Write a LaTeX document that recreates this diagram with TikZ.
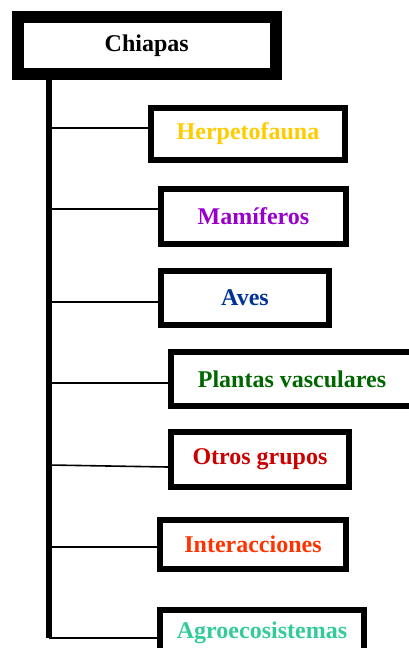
\documentclass[tikz,border=0pt]{standalone}
\usepackage{fontspec}
\setmainfont{Liberation Serif}
\usepackage{tikz}
\usetikzlibrary{calc}
\definecolor{herpcol}{HTML}{FFCC00}
\definecolor{mamcol}{HTML}{9900CC}
\definecolor{avecol}{HTML}{003399}
\definecolor{plantcol}{HTML}{006600}
\definecolor{otroscol}{HTML}{CC0000}
\definecolor{intercol}{HTML}{FF3300}
\definecolor{agrocol}{HTML}{33CC99}
\newcommand{\tikzGroupNode}[7]{
  \node[groupbox,text=#2,minimum width=#5,minimum height=#6] (#1) at (#3,#4) {#7};
}

\begin{document}
\begin{tikzpicture}[x=1pt,y=-1pt,
  groupbox/.style={draw,line width=6pt,rectangle,inner sep=0pt,fill=white,
    font=\bfseries\fontsize{24}{27}\selectfont},
  branch/.style={draw,line width=1.6pt},
  trunk/.style={draw,line width=6pt}]

  \useasboundingbox (0,0) rectangle (408,648);

  %root
  \node[groupbox,line width=12pt,minimum width=258.5,minimum height=57.5] (chiapas) at (146.75,45.25) {Chiapas};

  %groups
  \tikzGroupNode{herp}{herpcol}{248}{134}{194}{52}{Herpetofauna}
  \tikzGroupNode{mam}{mamcol}{253.5}{216.5}{185}{55}{Mamíferos}
  \tikzGroupNode{aves}{avecol}{245}{298}{168}{54}{Aves}
  \tikzGroupNode{plant}{plantcol}{292}{379}{242}{54}{Plantas vasculares}
  \tikzGroupNode{otros}{otroscol}{260}{459.5}{178}{55}{Otros grupos}
  \tikzGroupNode{inter}{intercol}{253}{544.5}{186}{49}{Interacciones}
  \tikzGroupNode{agro}{agrocol}{262}{633}{204}{46}{Agroecosistemas}

  %trunk
  \coordinate (tb) at (49,638);
  \path[trunk] (chiapas.south -| tb) -- (tb);

  %branches
  \foreach \n/\y in {herp/128,mam/209,aves/302,plant/383,inter/547,agro/638}
    \path[branch] (49,\y) -- (\n.west |- 0,\y);
  \path[branch] (49,465) -- (otros.west |- 0,467);

\end{tikzpicture}
\end{document}
